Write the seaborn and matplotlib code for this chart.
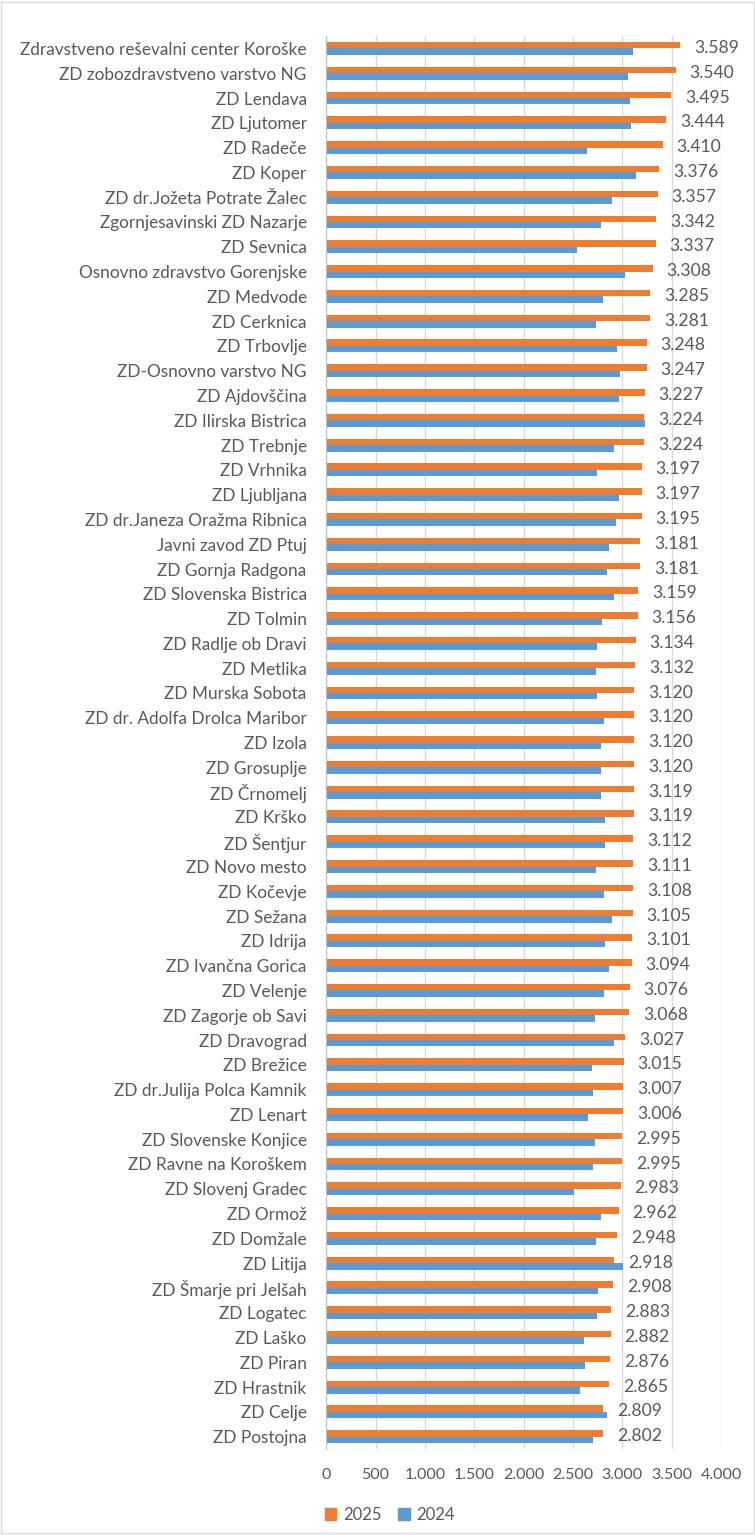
import pandas as pd
import seaborn as sns
import matplotlib.pyplot as plt
from matplotlib.patches import Rectangle

# Data
categories = [
    "Zdravstveno reševalni center Koroške", "ZD zobozdravstveno varstvo NG",
    "ZD Lendava", "ZD Ljutomer", "ZD Radeče", "ZD Koper",
    "ZD dr.Jožeta Potrate Žalec", "Zgornjesavinski ZD Nazarje", "ZD Sevnica",
    "Osnovno zdravstvo Gorenjske", "ZD Medvode", "ZD Cerknica", "ZD Trbovlje",
    "ZD-Osnovno varstvo NG", "ZD Ajdovščina", "ZD Ilirska Bistrica",
    "ZD Trebnje", "ZD Vrhnika", "ZD Ljubljana", "ZD dr.Janeza Oražma Ribnica",
    "Javni zavod ZD Ptuj", "ZD Gornja Radgona", "ZD Slovenska Bistrica",
    "ZD Tolmin", "ZD Radlje ob Dravi", "ZD Metlika", "ZD Murska Sobota",
    "ZD dr. Adolfa Drolca Maribor", "ZD Izola", "ZD Grosuplje", "ZD Črnomelj",
    "ZD Krško", "ZD Šentjur", "ZD Novo mesto", "ZD Kočevje", "ZD Sežana",
    "ZD Idrija", "ZD Ivančna Gorica", "ZD Velenje", "ZD Zagorje ob Savi",
    "ZD Dravograd", "ZD Brežice", "ZD dr.Julija Polca Kamnik", "ZD Lenart",
    "ZD Slovenske Konjice", "ZD Ravne na Koroškem", "ZD Slovenj Gradec",
    "ZD Ormož", "ZD Domžale", "ZD Litija", "ZD Šmarje pri Jelšah",
    "ZD Logatec", "ZD Laško", "ZD Piran", "ZD Hrastnik", "ZD Celje",
    "ZD Postojna",
]
values_2025 = [
    3589, 3540, 3495, 3444, 3410, 3376, 3357, 3342, 3337, 3308,
    3285, 3281, 3248, 3247, 3227, 3224, 3224, 3197, 3197, 3195,
    3181, 3181, 3159, 3156, 3134, 3132, 3120, 3120, 3120, 3120,
    3119, 3119, 3112, 3111, 3108, 3105, 3101, 3094, 3076, 3068,
    3027, 3015, 3007, 3006, 2995, 2995, 2983, 2962, 2948, 2918,
    2908, 2883, 2882, 2876, 2865, 2809, 2802,
]
values_2024 = [
    3108, 3057, 3077, 3088, 2641, 3135, 2895, 2783, 2536, 3027,
    2800, 2729, 2942, 2973, 2962, 3226, 2912, 2746, 2962, 2932,
    2861, 2841, 2912, 2790, 2746, 2729, 2739, 2810, 2780, 2780,
    2780, 2820, 2820, 2729, 2810, 2891, 2820, 2861, 2810, 2719,
    2912, 2689, 2699, 2648, 2719, 2699, 2506, 2780, 2729, 3003,
    2749, 2739, 2607, 2618, 2567, 2841, 2699,
]
years = ["2025", "2024"]
colors = {"2025": "#ED7D31", "2024": "#5B9BD5"}
x_ticks = [0, 500, 1000, 1500, 2000, 2500, 3000, 3500, 4000]

df = pd.DataFrame({
    "name": categories * 2,
    "value": values_2025 + values_2024,
    "year": ["2025"] * len(categories) + ["2024"] * len(categories),
})


def dot_thousands(v):
    return f"{int(v):,}".replace(",", ".")


sns.set_style("white")
plt.rcParams["font.family"] = ["Lato", "DejaVu Sans"]
text_color = "#595959"

fig = plt.figure(figsize=(7.55, 15.35), dpi=100)
ax = fig.add_axes([0.432, 0.056, 0.523, 0.9205])

sns.barplot(data=df, x="value", y="name", hue="year", hue_order=years,
            palette=colors, orient="h", width=0.52, saturation=1,
            linewidth=0, ax=ax, legend=False)

# data labels on the 2025 bars, nudged down a little like the original
labels = ax.bar_label(ax.containers[0],
                      labels=[dot_thousands(v) for v in values_2025],
                      padding=10, fontsize=12.6, color=text_color)
for t in labels:
    t.xyann = (10, -2)

ax.set_xlim(0, 4000)
ax.set_xticks(x_ticks)
ax.set_xticklabels([dot_thousands(t) for t in x_ticks])
ax.set_xlabel("")
ax.set_ylabel("")
ax.grid(axis="x", color="#D9D9D9", linewidth=1)
ax.set_axisbelow(True)
for side in ["top", "right", "bottom"]:
    ax.spines[side].set_visible(False)
ax.spines["left"].set_color("#BFBFBF")
ax.tick_params(axis="y", length=0, pad=14, labelsize=12.4, labelcolor=text_color)
ax.tick_params(axis="x", length=0, pad=14, labelsize=11.5, labelcolor=text_color)

# legend at the bottom
handles = [Rectangle((0, 0), 1, 1, color=colors[y]) for y in years]
fig.legend(handles, years, loc="lower left", bbox_to_anchor=(0.41, -0.002),
           ncol=2, frameon=False, fontsize=12, labelcolor=text_color,
           handlelength=0.7, handleheight=0.7, handletextpad=0.4,
           columnspacing=1.0)

# light chart border
fig.add_artist(Rectangle((0.001, 0.001), 0.998, 0.998, transform=fig.transFigure,
                         fill=False, edgecolor="#D9D9D9", linewidth=1))

plt.savefig("out.png", dpi=100)
